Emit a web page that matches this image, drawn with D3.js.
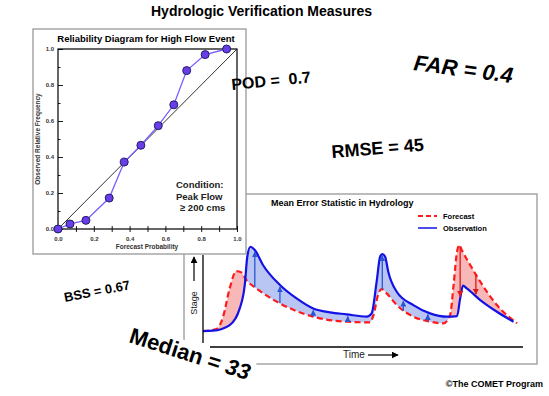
<!DOCTYPE html>
<meta charset="utf-8">
<head>
  <script src="https://d3js.org/d3.v7.min.js"></script>
  <style>
    body { margin: 0; background: #fff; }
    text { font-family: Arial, "Liberation Sans", sans-serif; white-space: pre; }
  </style>
</head>
<body>
<div id="my_dataviz"></div>
<script>

// reliability diagram data
var forecastProb = [0, 0.067, 0.156, 0.286, 0.37, 0.463, 0.56, 0.647, 0.719, 0.822, 0.942];
var observedFreq = [0, 0.028, 0.048, 0.172, 0.372, 0.465, 0.574, 0.69, 0.88, 0.969, 1.0];
var relTicks = [0, 0.1, 0.2, 0.3, 0.4, 0.5, 0.6, 0.7, 0.8, 0.9, 1.0];
var relLabels = [0, 0.2, 0.4, 0.6, 0.8, 1.0];

// mean error panel: observed and forecast hydrographs (time 0-100, stage 0-100)
var obsTime  = [0, 3.2, 8.5, 11.7, 13.3, 14.1, 15.1, 16.5, 19.1, 24.5, 29.8, 35.1, 40.4, 45.7, 52.1, 53.7, 55.3, 56.4, 57.1, 58.0, 59.0, 61.7, 67.0, 72.3, 77.7, 80.9, 81.9, 82.8, 84.0, 88.3, 93.6, 98.9];
var obsStage = [0.7, 1.1, 7.4, 25.9, 51.9, 83.3, 94.4, 90.7, 74.1, 51.9, 37.0, 25.9, 21.5, 19.3, 16.7, 20.4, 55.6, 83.3, 86.3, 83.3, 66.7, 44.4, 29.6, 20.4, 16.7, 17.4, 37.0, 51.1, 48.1, 35.2, 22.2, 11.1];
var fcstTime  = [0, 4.3, 6.4, 8.5, 10.6, 12.2, 13.8, 17.0, 24.5, 35.1, 45.7, 53.2, 54.3, 55.9, 56.9, 58.5, 61.7, 67.0, 72.3, 76.6, 78.7, 79.8, 80.9, 81.6, 82.4, 85.1, 88.3, 93.6, 100];
var fcstStage = [0.7, 3.0, 16.7, 48.1, 67.4, 65.9, 57.4, 48.1, 31.5, 16.7, 11.1, 10.4, 18.5, 42.6, 47.4, 42.6, 29.6, 16.7, 11.1, 9.3, 18.5, 51.9, 88.9, 96.3, 90.7, 74.1, 55.6, 29.6, 9.3];
var errorTimes = [16.5, 24.5, 35.1, 46.1, 57.1, 63.8, 71.6, 81.9, 86.9];

// floating measures
var measureText  = ["POD =  0.7", "RMSE = 45", "BSS = 0.67"];
var measureSize  = [16, 18, 13];
var measureAngle = [-5.5, -4.6, -11];
var measureX = [232, 332, 65];
var measureY = [90, 158, 302];

var svg = d3.select("#my_dataviz")
  .append("svg")
    .attr("width", 549)
    .attr("height", 396);

var defs = svg.append("defs");
function addArrow(id, color, size) {
  defs.append("marker")
    .attr("id", id)
    .attr("viewBox", "0 0 10 10")
    .attr("refX", 9).attr("refY", 5)
    .attr("markerUnits", "userSpaceOnUse")
    .attr("markerWidth", size).attr("markerHeight", size)
    .attr("orient", "auto")
    .append("path")
      .attr("d", "M0,0 L10,5 L0,10 z")
      .attr("fill", color);
}
addArrow("arBlue", "#2a55d0", 6);
addArrow("arRed", "#e01818", 6);
addArrow("arBlack", "#000", 7);

// main title
svg.append("text")
  .attr("x", 151).attr("y", 16)
  .style("font-size", "14px").style("font-weight", "bold")
  .text("Hydrologic Verification Measures");

// ---------- Mean error panel ----------
var me = svg.append("g");
me.append("rect")
  .attr("x", 184).attr("y", 194).attr("width", 353).attr("height", 170)
  .attr("fill", "#fff").attr("stroke", "#999").attr("stroke-width", 1.3);

var tx = d3.scaleLinear().domain([0, 100]).range([203, 517]);
var sy = d3.scaleLinear().domain([0, 100]).range([331.7, 241.7]);

var obs = obsTime.map(function(t, i) { return [t, obsStage[i]]; });
var fcst = fcstTime.map(function(t, i) { return [t, fcstStage[i]]; });

var curve = d3.curveMonotoneX;
var line = d3.line().x(function(d) { return tx(d[0]); }).y(function(d) { return sy(d[1]); }).curve(curve);
var areaUp = d3.area().x(function(d) { return tx(d[0]); }).y0(200).y1(function(d) { return sy(d[1]); }).curve(curve);
var areaDown = d3.area().x(function(d) { return tx(d[0]); }).y0(340).y1(function(d) { return sy(d[1]); }).curve(curve);

defs.append("clipPath").attr("id", "aboveObs").append("path").attr("d", areaUp(obs));
defs.append("clipPath").attr("id", "aboveFcst").append("path").attr("d", areaUp(fcst));

// forecast too high -> pink, forecast too low -> blue
me.append("path").attr("d", areaDown(fcst)).attr("fill", "#f8b8b8").attr("clip-path", "url(#aboveObs)");
me.append("path").attr("d", areaDown(obs)).attr("fill", "#b9c6f4").attr("clip-path", "url(#aboveFcst)");

var fcstPath = me.append("path").attr("d", line(fcst))
  .attr("fill", "none").attr("stroke", "#ff1a1a").attr("stroke-width", 2.2)
  .attr("stroke-dasharray", "6,3.5");
var obsPath = me.append("path").attr("d", line(obs))
  .attr("fill", "none").attr("stroke", "#1212e6").attr("stroke-width", 2.2);

function yOnPath(node, px) {
  var lo = 0, hi = node.getTotalLength();
  for (var i = 0; i < 30; i++) {
    var mid = (lo + hi) / 2;
    if (node.getPointAtLength(mid).x < px) lo = mid; else hi = mid;
  }
  return node.getPointAtLength(lo).y;
}

// error arrows from forecast to observation
errorTimes.forEach(function(t) {
  var px = tx(t);
  var yf = yOnPath(fcstPath.node(), px);
  var yo = yOnPath(obsPath.node(), px);
  var up = yo < yf;
  me.append("line")
    .attr("x1", px).attr("x2", px)
    .attr("y1", yf).attr("y2", up ? yo + 2 : yo - 2)
    .attr("stroke", up ? "#2a55d0" : "#e01818").attr("stroke-width", 1.3)
    .attr("marker-end", up ? "url(#arBlue)" : "url(#arRed)");
});

// axes of the hydrograph panel
me.append("line").attr("x1", 203).attr("x2", 203).attr("y1", 255).attr("y2", 343)
  .attr("stroke", "#000").attr("stroke-width", 1.3);
me.append("line").attr("x1", 210).attr("x2", 523).attr("y1", 347).attr("y2", 347)
  .attr("stroke", "#000").attr("stroke-width", 1.3);

me.append("text")
  .attr("x", 271).attr("y", 206)
  .style("font-size", "9px").style("font-weight", "bold")
  .text("Mean Error Statistic in Hydrology");

// legend
me.append("line").attr("x1", 418).attr("x2", 437).attr("y1", 216).attr("y2", 216)
  .attr("stroke", "#ff1a1a").attr("stroke-width", 2).attr("stroke-dasharray", "5,3");
me.append("line").attr("x1", 418).attr("x2", 437).attr("y1", 228).attr("y2", 228)
  .attr("stroke", "#1212e6").attr("stroke-width", 1.5);
me.append("text").attr("x", 443).attr("y", 219)
  .style("font-size", "7.5px").style("font-weight", "bold").text("Forecast");
me.append("text").attr("x", 443).attr("y", 231)
  .style("font-size", "7.5px").style("font-weight", "bold").text("Observation");

// stage and time labels
me.append("line").attr("x1", 194).attr("x2", 194).attr("y1", 281).attr("y2", 257)
  .attr("stroke", "#000").attr("stroke-width", 1.2).attr("marker-end", "url(#arBlack)");
me.append("text")
  .attr("transform", "translate(197,303) rotate(-90)")
  .attr("text-anchor", "middle")
  .style("font-size", "9px").style("fill", "#222")
  .text("Stage");
me.append("text").attr("x", 343).attr("y", 358)
  .style("font-size", "10px").style("fill", "#222").text("Time");
me.append("line").attr("x1", 368).attr("x2", 398).attr("y1", 355).attr("y2", 355)
  .attr("stroke", "#000").attr("stroke-width", 1.2).attr("marker-end", "url(#arBlack)");

// ---------- Reliability diagram ----------
var rel = svg.append("g");
rel.append("rect")
  .attr("x", 33).attr("y", 29).attr("width", 213).attr("height", 225)
  .attr("fill", "#fff").attr("stroke", "#999").attr("stroke-width", 1.3);

var x = d3.scaleLinear().domain([0, 1]).range([58, 237]);
var y = d3.scaleLinear().domain([0, 1]).range([229, 49]);

rel.append("text")
  .attr("x", 146).attr("y", 42).attr("text-anchor", "middle")
  .style("font-size", "9.5px").style("font-weight", "bold")
  .text("Reliability Diagram for High Flow Event");

var fmt = function(d) { return relLabels.some(function(v) { return Math.abs(v - d) < 1e-6; }) ? d.toFixed(1) : ""; };

var xAxis = rel.append("g")
  .attr("transform", "translate(0,229)")
  .call(d3.axisBottom(x).tickValues(relTicks).tickFormat(fmt).tickSize(3).tickPadding(5));
xAxis.selectAll(".tick line").attr("y1", -3).attr("stroke-width", 0.9);
var yAxis = rel.append("g")
  .attr("transform", "translate(58,0)")
  .call(d3.axisLeft(y).tickValues(relTicks).tickFormat(fmt).tickSize(0).tickPadding(4));
yAxis.selectAll(".tick line")
  .attr("x2", function(d) { return fmt(d) ? 5 : 2.5; }).attr("stroke-width", 0.9);
rel.selectAll(".domain").remove();
rel.selectAll(".tick text")
  .style("font-size", "6px").style("font-weight", "bold").style("fill", "#333")
  .style("font-family", "Arial, 'Liberation Sans', sans-serif");

rel.append("rect")
  .attr("x", x(0)).attr("y", y(1)).attr("width", x(1) - x(0)).attr("height", y(0) - y(1))
  .attr("fill", "none").attr("stroke", "#000").attr("stroke-width", 1.2);

// perfect reliability diagonal
rel.append("line")
  .attr("x1", x(0)).attr("y1", y(0)).attr("x2", x(1)).attr("y2", y(1))
  .attr("stroke", "#000").attr("stroke-width", 0.8);

var pts = forecastProb.map(function(p, i) { return [p, observedFreq[i]]; });
rel.append("path")
  .attr("d", d3.line().x(function(d) { return x(d[0]); }).y(function(d) { return y(d[1]); })(pts))
  .attr("fill", "none").attr("stroke", "#7a5cff").attr("stroke-width", 1.3);
rel.selectAll("circle.dot")
  .data(pts)
  .enter()
  .append("circle")
    .attr("class", "dot")
    .attr("cx", function(d) { return x(d[0]); })
    .attr("cy", function(d) { return y(d[1]); })
    .attr("r", 4)
    .attr("fill", "#6a3de8")
    .attr("stroke", "#1e1e66")
    .attr("stroke-width", 1);

rel.append("text")
  .attr("x", 147).attr("y", 249).attr("text-anchor", "middle")
  .style("font-size", "6.5px").style("font-weight", "bold").style("fill", "#333")
  .text("Forecast Probability");
rel.append("text")
  .attr("transform", "translate(40,139) rotate(-90)").attr("text-anchor", "middle")
  .style("font-size", "6.5px").style("font-weight", "bold").style("fill", "#333")
  .text("Observed Relative Frequency");

var cond = rel.append("text").style("font-size", "9.5px").style("font-weight", "bold").style("fill", "#222");
cond.append("tspan").attr("x", 176).attr("y", 188).text("Condition:");
cond.append("tspan").attr("x", 176).attr("y", 199.5).text("Peak Flow");
cond.append("tspan").attr("x", 180).attr("y", 211).text("\u2265 200 cms");

// ---------- floating measures ----------
measureText.forEach(function(t, i) {
  svg.append("text")
    .attr("transform", "translate(" + measureX[i] + "," + measureY[i] + ") rotate(" + measureAngle[i] + ")")
    .style("font-size", measureSize[i] + "px").style("font-weight", "bold")
    .text(t);
});

svg.append("text")
  .attr("transform", "translate(413,70) rotate(7.5)")
  .style("font-size", "22px").style("font-weight", "bold").style("font-style", "italic")
  .text("FAR = 0.4");

var med = svg.append("g").attr("transform", "translate(128,342) rotate(17.7)");
med.append("rect").attr("x", -3).attr("y", -19).attr("width", 132).attr("height", 25).attr("fill", "#fff");
var medText = med.append("text").style("font-size", "22px").style("font-weight", "bold");
medText.append("tspan").text("Median = ");
medText.append("tspan").style("font-style", "italic").text("33");

svg.append("text")
  .attr("x", 543).attr("y", 387).attr("text-anchor", "end")
  .style("font-size", "9px").style("font-weight", "bold")
  .text("\u00a9The COMET Program");

</script>
</body>
